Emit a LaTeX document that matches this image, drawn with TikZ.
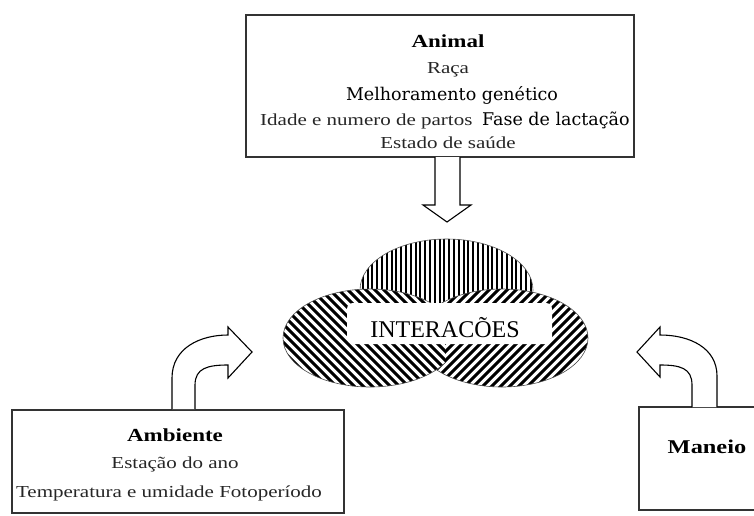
\documentclass[tikz,border=0pt]{standalone}
\usepackage{fontspec}
\setmainfont{Liberation Serif}
\newfontfamily\tms[FakeStretch=1.25]{Liberation Serif}
\newfontfamily\dvs{DejaVu Serif}
\tikzset{
  box/.style={draw=black!80, line width=1.6pt, rectangle, inner sep=0pt},
  reg/.style={anchor=base, inner sep=0pt, font=\tms\fontsize{16.8}{19}\selectfont, text=black!85},
  hd/.style={anchor=base, inner sep=0pt, font=\tms\bfseries\fontsize{18.4}{21}\selectfont},
  dv/.style={anchor=base, inner sep=0pt, font=\dvs\fontsize{17.5}{20}\selectfont},
  blockarrow/.style={draw=black, line width=1.1pt, fill=white, line join=miter},
  hatchA/.style={line width=2.1pt},
  hatchB/.style={line width=3pt},
  rim/.style={draw=black!70, line width=0.6pt}
}
\begin{document}
\begin{tikzpicture}[x=1pt,y=-1pt]
\useasboundingbox[fill=white] (0,0) rectangle (754,515);

% boxes
\node[box, minimum width=388pt, minimum height=142pt] (animal) at (440,86) {};
\node[box, minimum width=332pt, minimum height=103pt] (ambiente) at (178,461.5) {};
\node[box, minimum width=131pt, minimum height=103pt] (maneio) at (704.5,458.5) {};

% Animal texts
\node[hd] (tanimal) at (448,47) {Animal};
\node[reg] (traca) at (448,73) {Raça};
\node[dv] (tmelh) at (452,100) {Melhoramento genético};
\node[reg, anchor=base west] (tidade) at (260,125) {Idade e numero de partos};
\node[dv, anchor=base west] (tfase) at (482,125) {Fase de lactação};
\node[reg] (testado) at (448,148) {Estado de saúde};

% Ambiente texts
\node[hd] (tamb) at (175,441) {Ambiente};
\node[reg] (testacao) at (175,468) {Estação do ano};
\node[reg] (ttemp) at (169,497) {Temperatura e umidade Fotoperíodo};

% Maneio text
\node[hd, font=\tms\bfseries\fontsize{19.5}{22}\selectfont] (tman) at (707,453) {Maneio};

% down arrow
\draw[blockarrow] (435,157) -- (435,205) -- (423,205) -- (447,222) -- (471,205) -- (460,205) -- (460,157);

% left curved arrow
\draw[blockarrow] (172,409) -- (172,378) .. controls (172,348) and (200,335) .. (228,335)
  -- (228,327) -- (252,352) -- (228,378) -- (228,365)
  .. controls (208,365) and (195,368) .. (195,385) -- (195,409);

% right curved arrow
\draw[blockarrow] (717,407) -- (717,376) .. controls (717,348) and (690,335) .. (660,335)
  -- (660,327) -- (637,352) -- (660,377) -- (660,365)
  .. controls (680,365) and (692,368) .. (692,385) -- (692,407);

% top ellipse (vertical hatching)
\begin{scope}
  \clip (446.5,290) ellipse [x radius=86.5, y radius=51];
  \fill[white] (446.5,290) ellipse [x radius=86.5, y radius=51];
  \foreach \x in {358,362.8,...,540} \draw[hatchA] (\x,230) -- (\x,350);
\end{scope}
\draw[rim] (446.5,290) ellipse [x radius=86.5, y radius=51];

% right lower ellipse
\begin{scope}
  \clip (502,338) ellipse [x radius=86, y radius=49];
  \fill[white] (502,338) ellipse [x radius=86, y radius=49];
  \foreach \x in {280,289,...,620} \draw[hatchB] (\x,400) -- ++(130,-130);
\end{scope}
\draw[rim] (502,338) ellipse [x radius=86, y radius=49];

% left lower ellipse
\begin{scope}
  \clip (0,0) rectangle (445,515);
  \clip (370,338) ellipse [x radius=87, y radius=49];
  \fill[white] (0,0) rectangle (445,515);
  \foreach \x in {140,149,...,460} \draw[hatchB] (\x,280) -- ++(130,130);
\end{scope}
\begin{scope}
  \clip (0,0) rectangle (445,515);
  \draw[rim] (370,338) ellipse [x radius=87, y radius=49];
\end{scope}

% label
\node[fill=white, rounded corners=6pt, minimum width=205pt, minimum height=41pt, inner sep=0pt] (interbox) at (449.5,323.5) {};
\node[anchor=base, inner sep=0pt, font=\fontsize{24}{26}\selectfont] (inter) at (445,337) {INTERACÕES};
\end{tikzpicture}
\end{document}
